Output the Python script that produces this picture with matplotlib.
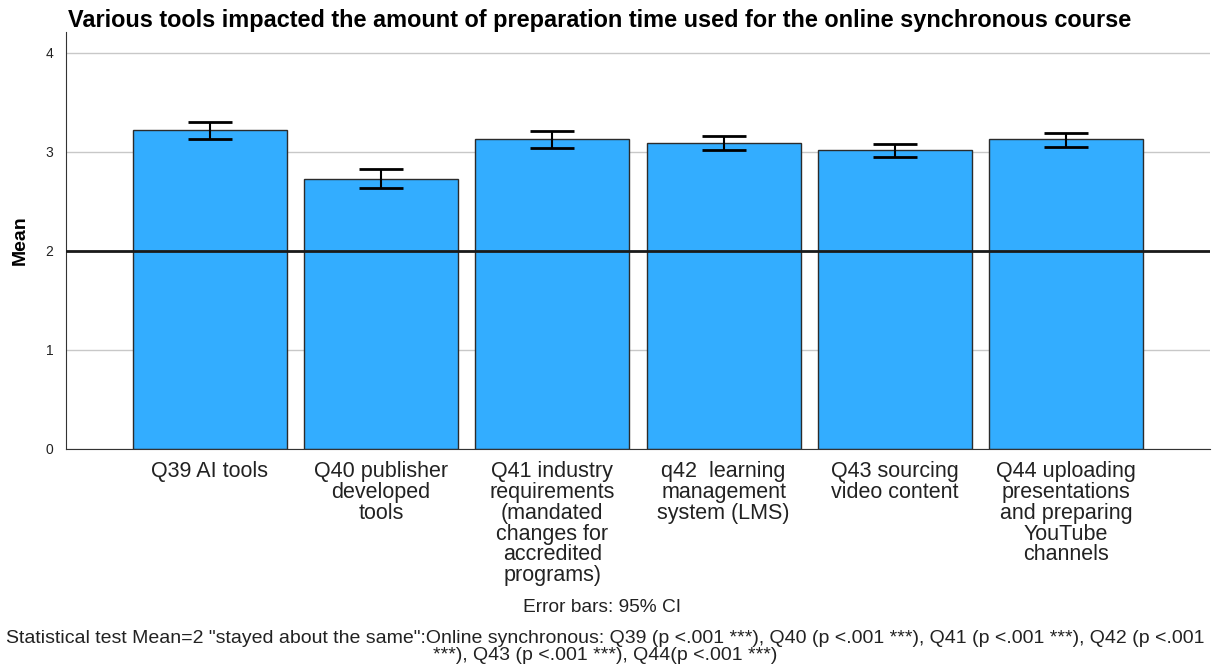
import numpy as np
import matplotlib.pyplot as plt

# category labels (as wrapped in the original chart)
labels = [
    'Q39 AI tools',
    'Q40 publisher\ndeveloped\ntools',
    'Q41 industry\nrequirements\n(mandated\nchanges for\naccredited\nprograms)',
    'q42  learning\nmanagement\nsystem (LMS)',
    'Q43 sourcing\nvideo content',
    'Q44 uploading\npresentations\nand preparing\nYouTube\nchannels',
]
means = [3.22, 2.73, 3.13, 3.09, 3.02, 3.13]
ci_low = [3.13, 2.64, 3.04, 3.02, 2.95, 3.05]
ci_high = [3.30, 2.83, 3.21, 3.16, 3.08, 3.19]
ref_value = 2

plt.rcParams['font.family'] = ['Liberation Sans', 'DejaVu Sans']

fig = plt.figure(figsize=(12.14, 6.64), dpi=100)
ax = fig.add_axes([66 / 1214, 1 - 449 / 664, (1210 - 66) / 1214, (449 - 32) / 664])

x = np.arange(len(labels))
means = np.array(means)
yerr = [means - np.array(ci_low), np.array(ci_high) - means]

ax.bar(x, means, width=0.9, color='#33adff', edgecolor='#2b2b2b', linewidth=1.0, zorder=2)
ax.errorbar(x, means, yerr=yerr, fmt='none', ecolor='black', elinewidth=1.5,
            capsize=16, capthick=2, zorder=3)
ax.axhline(ref_value, color='#1a1a1a', linewidth=2, zorder=4)

ax.set_xlim(-0.84, 5.84)
ax.set_ylim(0, 4.21)
ax.set_yticks([0, 1, 2, 3, 4])
ax.yaxis.grid(True, color='#c8c8c8', linewidth=1, zorder=0)
ax.set_axisbelow(True)
ax.tick_params(axis='y', length=0, labelsize=10, pad=9, colors='#222222')
ax.tick_params(axis='x', length=0, labelsize=15.5, pad=9, colors='#222222')
ax.set_xticks(x)
ax.set_xticklabels(labels, linespacing=0.98, va='top')

for s in ['top', 'right']:
    ax.spines[s].set_visible(False)
ax.spines['left'].set_color('#333333')
ax.spines['bottom'].set_color('#333333')

ax.set_ylabel('Mean', fontsize=14, fontweight='bold', labelpad=12)

fig.text(68 / 1214, 1 - 20 / 664, 'Various tools impacted the amount of preparation time used for the online synchronous course',
         fontsize=16.9, fontweight='bold', va='center', ha='left')
fig.text(602 / 1214, 1 - 607 / 664, 'Error bars: 95% CI', fontsize=13.8, ha='center', va='center',
         color='#222222')
fig.text(605 / 1214, 1 - 647 / 664,
         'Statistical test Mean=2 "stayed about the same":Online synchronous: Q39 (p <.001 ***), Q40 (p <.001 ***), Q41 (p <.001 ***), Q42 (p <.001\n***), Q43 (p <.001 ***), Q44(p <.001 ***)',
         fontsize=14, ha='center', va='center', linespacing=0.95, color='#222222')

fig.savefig('out.png', dpi=100)
